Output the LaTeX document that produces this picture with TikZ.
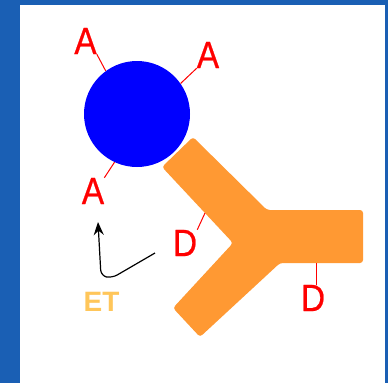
\documentclass[tikz,border=0pt]{standalone}
\usepackage{fontspec}
\setmainfont{Liberation Sans}
\newfontfamily\narrowsans[FakeStretch=0.88,FakeBold=0.6]{Liberation Sans}
\usetikzlibrary{arrows.meta}
\begin{document}
\begin{tikzpicture}[x=1pt,y=-1pt]

% colours
\definecolor{slide}{RGB}{26,95,180}
\definecolor{arm}{RGB}{255,153,51}
\definecolor{tag}{RGB}{255,198,90}
% label font
\def\fs{\narrowsans\fontsize{38}{38}\selectfont}
% style definitions
\tikzstyle{lbl} = [text=red, font=\fs, inner sep=0pt];
\tikzstyle{pin} = [draw=red, line width=1pt];

% slide and white panel
\fill[slide] (0,0) rectangle (388,383);
\fill[white] (20,5) rectangle (385,383);

% antigen
\node[circle, fill=blue, minimum size=106, inner sep=0] (ag) at (137,114) {};

% antibody (Y)
\fill[arm, rounded corners=3] (193,137) -- (267,210) -- (363,210) -- (363,263)
	-- (280,263) -- (200,337) -- (173,308) -- (233,243) -- (162,167) -- cycle;
\coordinate (y1) at (205,213);
\coordinate (y2) at (316,263);

\node[lbl] (a1) at (85.5,41) {A};
\node[lbl] (a2) at (208,55) {A};
\node[lbl] (a3) at (93,191) {A};
\node[lbl] (d1) at (185,243) {D};
\node[lbl] (d2) at (313,298) {D};

\draw[pin] (a1.south east) -- (ag.126);
\draw[pin] (a2.south west) -- (ag.35);
\draw[pin] (a3.north east) -- (ag.245);
\draw[pin] (d1.north east) -- (y1);
\draw[pin] (y2) -- (y2 |- d2.north);

% energy transfer
\node[text=tag, font=\fontsize{28}{28}\selectfont\bfseries, inner sep=0] (et) at (101.5,302) {ET};
\coordinate (tail) at (155,253);
\coordinate (tip) at (98,222);
\draw[line width=1.2pt, rounded corners=6, -{Stealth[length=13,width=10]}]
	(tail) -- (112,278) -- (101,276) -- (tip);

\end{tikzpicture}
\end{document}
